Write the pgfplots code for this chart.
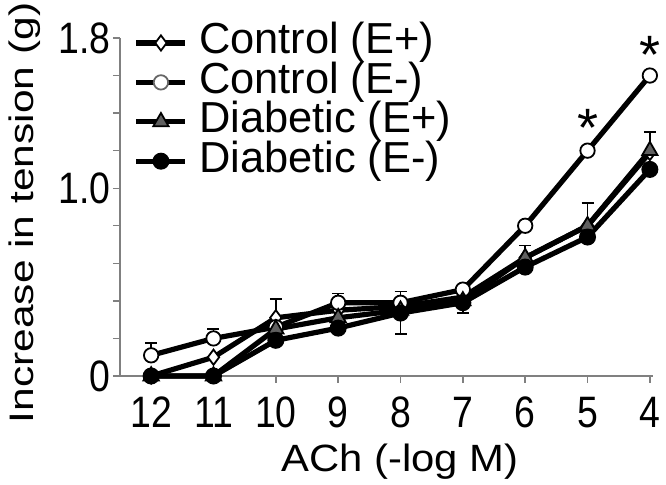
\documentclass[border=0pt]{standalone}
\usepackage{fontspec}
\setmainfont{Liberation Sans}
\newfontfamily\tickfont[FakeStretch=0.85]{Liberation Sans}
\newfontfamily\ylabfont[FakeStretch=1.25]{Liberation Sans}
\newfontfamily\xlabfont[FakeStretch=1.1]{Liberation Sans}
\usepackage{pgfplots}
\usepackage{pgfplotstable}
\pgfplotsset{compat=1.18}
\definecolor{axgray}{RGB}{128,128,128}
\definecolor{trigray}{RGB}{95,95,95}

\pgfplotstableread{
x   cEp   cEm   dEp   dEm
12  0.00  0.11  0.00  0.00
11  0.10  0.20  0.00  0.00
10  0.31  0.26  0.25  0.19
9   0.35  0.39  0.31  0.255
8   0.37  0.39  0.35  0.335
7   0.42  0.46  0.40  0.39
6   0.63  0.80  0.63  0.58
5   0.80  1.20  0.80  0.74
4   1.19  1.60  1.20  1.10
}\datatable

\begin{document}
\begin{tikzpicture}
\useasboundingbox (0,0) rectangle (333pt,242.5pt);
\begin{axis}[
  at={(60pt,54.5pt)}, anchor=south west,
  scale only axis, width=266.5pt, height=169pt,
  x dir=reverse,
  xmin=3.95, xmax=12.5, ymin=0, ymax=1.8,
  axis lines*=left,
  axis line style={axgray, line width=0.7pt},
  tick style={axgray, line width=0.7pt},
  tick align=outside, major tick length=3.5pt,
  xtick={4,5,6,7,8,9,10,11,12},
  xticklabels={4,5,6,7,8,9,10,11,12},
  ytick={0,0.2,0.4,0.6,0.8,1.0,1.2,1.4,1.6,1.8},
  yticklabels={0,,,,,1.0,,,,1.8},
  xticklabel style={font=\fontsize{22}{24}\tickfont, inner sep=0pt, anchor=base, yshift=-22.5pt},
  yticklabel style={font=\fontsize{22}{24}\tickfont, inner sep=0pt, anchor=east, xshift=-1pt},
  clip=false,
  legend style={draw=none, fill=none, inner sep=0pt, outer sep=0pt,
    at={(0.026,1.0435)}, anchor=north west,
    font=\fontsize{21.7}{23}\selectfont,
    row sep=0pt, column sep=5.5pt,
    nodes={inner sep=0pt, text height=15.3pt, text depth=4.4pt}},
  legend cell align=left,
  legend image code/.code={\draw[mark repeat=2,mark phase=2,#1] plot coordinates {(0pt,0pt)(12.25pt,0pt)(24.5pt,0pt)};},
]
% legend images
\addlegendimage{black, line width=2.6pt, mark=diamond*, mark size=3.8pt, mark options={fill=white, draw=black, line width=0.9pt}}
\addlegendentry{Control (E+)}
\addlegendimage{black, line width=2.6pt, mark=*, mark size=3.6pt, mark options={fill=white, draw=black!60, line width=0.9pt}}
\addlegendentry{Control (E-)}
\addlegendimage{black, line width=2.6pt, mark=triangle*, mark size=4.4pt, mark options={fill=trigray, draw=black, line width=0.9pt}}
\addlegendentry{Diabetic (E+)}
\addlegendimage{black, line width=2.6pt, mark=*, mark size=3.8pt, mark options={fill=black, draw=black, line width=0.9pt}}
\addlegendentry{Diabetic (E-)}

% lines
\addplot[forget plot, black, line width=2.6pt, no marks] table[x=x, y=cEp] {\datatable};
\addplot[forget plot, black, line width=2.6pt, no marks] table[x=x, y=cEm] {\datatable};
\addplot[forget plot, black, line width=2.6pt, no marks] table[x=x, y=dEp] {\datatable};
\addplot[forget plot, black, line width=2.6pt, no marks] table[x=x, y=dEm] {\datatable};

% error bars (upper)
\addplot[forget plot, draw=none, no marks,
  error bars/.cd, y dir=plus, y explicit,
  error bar style={black, line width=0.8pt},
  error mark options={black, mark size=3pt, line width=0.8pt, rotate=90}]
  coordinates {
   (12,0.11) +- (0,0.065)
   (11,0.20) +- (0,0.05)
   (10,0.31) +- (0,0.10)
   (9,0.39) +- (0,0.05)
   (8,0.39) +- (0,0.06)
   (6,0.63) +- (0,0.065)
   (5,0.80) +- (0,0.12)
   (4,1.20) +- (0,0.10)
  };
% error bars (lower)
\addplot[forget plot, draw=none, no marks,
  error bars/.cd, y dir=minus, y explicit,
  error bar style={black, line width=0.8pt},
  error mark options={black, mark size=3pt, line width=0.8pt, rotate=90}]
  coordinates {
   (8,0.335) +- (0,0.11)
   (7,0.39) +- (0,0.055)
  };

% markers
\addplot[forget plot, only marks, mark=diamond*, mark size=3.8pt, mark options={fill=white, draw=black, line width=0.9pt}] table[x=x, y=cEp] {\datatable};
\addplot[forget plot, only marks, mark=*, mark size=3.6pt, mark options={fill=white, draw=black, line width=0.9pt}] table[x=x, y=cEm] {\datatable};
\addplot[forget plot, only marks, mark=triangle*, mark size=4.4pt, mark options={fill=trigray, draw=black, line width=0.9pt}] table[x=x, y=dEp] {\datatable};
\addplot[forget plot, only marks, mark=*, mark size=3.8pt, mark options={fill=black, draw=black, line width=0.9pt}] table[x=x, y=dEm] {\datatable};

\node[font=\fontsize{27}{29}\selectfont] at (axis cs:5,1.32) {*};
\node[font=\fontsize{27}{29}\selectfont] at (axis cs:4,1.71) {*};
\end{axis}
\node[anchor=base, font=\fontsize{19}{21}\xlabfont] at (200pt,6.5pt) {ACh (-log M)};
\node[anchor=base, rotate=90, font=\fontsize{17}{19}\ylabfont] at (16.5pt,136pt) {Increase in tension (g)};
\end{tikzpicture}
\end{document}
